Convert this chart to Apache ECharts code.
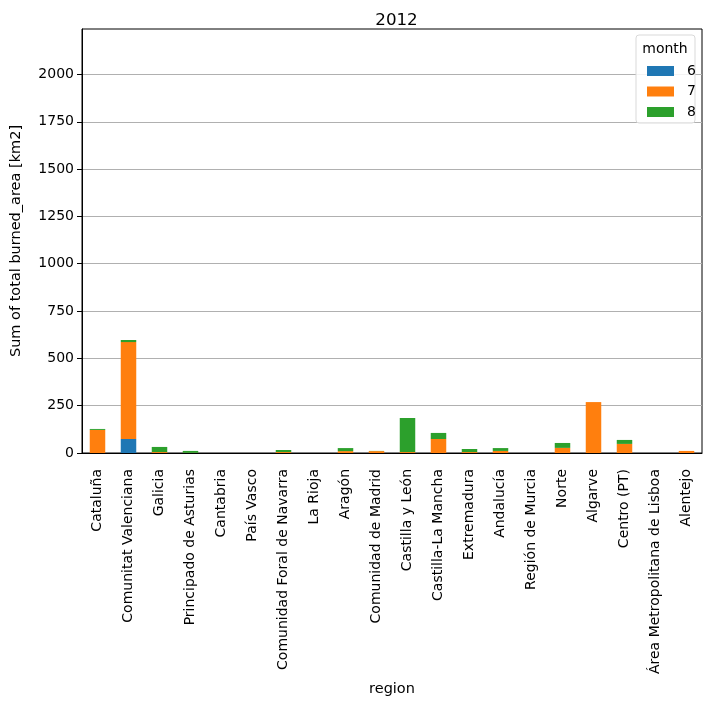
<!DOCTYPE html>
<html>
<head>
<meta charset="utf-8">
<script src="https://cdn.jsdelivr.net/npm/echarts@6/dist/echarts.min.js"></script>
<style>html,body{margin:0;padding:0;background:#fff}#c{width:711px;height:702px}</style>
</head>
<body>
<div id="c"></div>
<script>
const categories = ["Cataluña","Comunitat Valenciana","Galicia","Principado de Asturias","Cantabria","País Vasco","Comunidad Foral de Navarra","La Rioja","Aragón","Comunidad de Madrid","Castilla y León","Castilla-La Mancha","Extremadura","Andalucía","Región de Murcia","Norte","Algarve","Centro (PT)","Área Metropolitana de Lisboa","Alentejo"];
const month6 = [0,74,0,0,0,0,0,0,0,0,0,0,0,0,0,0,0,0,0,0];
const month7 = [122,512,5,1,0,0,5,0,10,10,5,74,5,11,0,27,269,48,0,11];
const month8 = [5,11,27,10,0,0,11,0,16,1,180,32,16,15,0,26,0,21,0,0];
const seriesNames = ["6","7","8"];
const yTicks = [0,250,500,750,1000,1250,1500,1750,2000];

const font = "DejaVu Sans";
const colors = ["#1f77b4","#ff7f0e","#2ca02c"];
const chart = echarts.init(document.getElementById('c'), null, {renderer:'canvas'});
const data = [month6, month7, month8];
chart.setOption({
  animation:false,
  textStyle:{fontFamily:font},
  title:{text:"2012", left:391.5, top:7, textAlign:'center', textStyle:{fontFamily:font, fontSize:16.7, fontWeight:'normal', color:'#000'}},
  grid:{left:82, right:9, top:29, bottom:249, show:true, borderColor:'#000', borderWidth:1, backgroundColor:'transparent', outerBoundsMode:'none', containLabel:false},
  xAxis:{type:'category', data:categories, name:'region', nameLocation:'middle', nameGap:226,
    nameTextStyle:{fontFamily:font, fontSize:14.5, color:'#000'},
    axisLine:{lineStyle:{color:'#000', width:1}},
    axisTick:{alignWithLabel:true, length:5, lineStyle:{color:'#000'}},
    axisLabel:{rotate:90, interval:0, fontFamily:font, fontSize:14, color:'#000', margin:16},
    splitLine:{show:false}},
  yAxis:{type:'value', min:0, max:2240, interval:250,
    name:'Sum of total burned_area [km2]', nameLocation:'middle', nameGap:58, nameRotate:90,
    nameTextStyle:{fontFamily:font, fontSize:14.5, color:'#000'},
    axisLine:{show:true, lineStyle:{color:'#000'}},
    axisTick:{show:true, length:5, lineStyle:{color:'#000'}, customValues: yTicks},
    axisLabel:{fontFamily:font, fontSize:14, color:'#000', margin:8, customValues: yTicks, formatter:(v)=>String(v)},
    splitLine:{show:true, lineStyle:{color:'#b0b0b0', width:1.2}}},
  legend:{orient:'vertical', left:642, top:59, itemWidth:27, itemHeight:10, itemGap:6.5, z:10,
    icon:'rect', data:seriesNames,
    textStyle:{fontFamily:font, fontSize:14, color:'#000', lineHeight:14, padding:[0,0,0,8]}},
  graphic:[
    {type:'rect', z:8, shape:{x:636, y:35, width:59, height:88, r:3}, style:{fill:'rgba(255,255,255,0.85)', stroke:'#d9d9d9', lineWidth:1}},
    {type:'text', z:9, x:665, y:49, style:{text:'month', fontFamily:font, fontSize:14, fill:'#000', align:'center', verticalAlign:'middle'}}
  ],
  series: seriesNames.map((n,i)=>({name:n, type:'bar', stack:'total', barWidth:'50%', data:data[i], itemStyle:{color:colors[i]}}))
});
</script>
</body>
</html>
